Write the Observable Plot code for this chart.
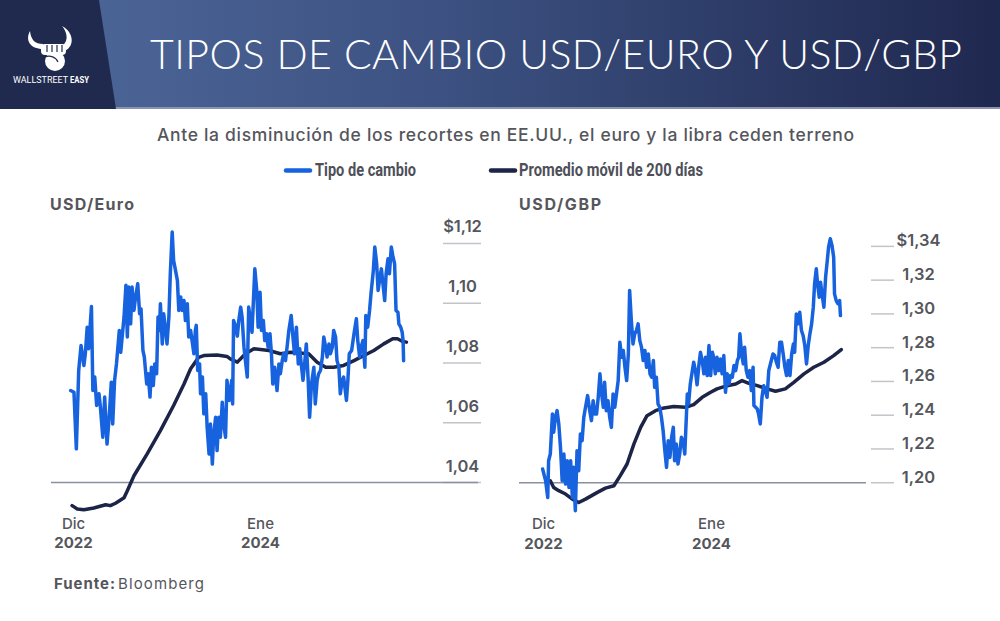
<!DOCTYPE html>
<html><head><meta charset="utf-8">
<script src="https://cdn.jsdelivr.net/npm/d3@7"></script>
<script src="https://cdn.jsdelivr.net/npm/@observablehq/plot@0.6"></script>
<style>
html,body{margin:0;padding:0;background:#fff;}
#wrap{position:relative;width:1000px;height:621px;overflow:hidden;font-family:Inter,"Open Sans",sans-serif;background:#fff;}
#wrap > svg{position:absolute;}
</style></head><body><div id="wrap">
<svg id="deco" width="1000" height="621" style="left:0;top:0">
  <defs>
    <linearGradient id="bg" x1="0" x2="1" y1="0" y2="0">
      <stop offset="0" stop-color="#4f699c"/>
      <stop offset="0.45" stop-color="#3c5181"/>
      <stop offset="1" stop-color="#1f284f"/>
    </linearGradient>
  </defs>
  <rect width="1000" height="108" fill="url(#bg)"/>
  <rect y="107" width="1000" height="2" fill="#8c94ad"/>
  <polygon points="0,0 99,0 116,109 0,109" fill="#1f2a4e"/>
  <g fill="#fff">
    <path d="M30,31 C25,40 30,49 43,49 L43,44 C35,44 31,40 30,31 Z"/>
    <path d="M62,26 C74,32 76,48 62,52 L60,47 C69,43 68,33 62,26 Z"/>
    <rect x="41" y="44" width="25" height="11" rx="4"/>
    <circle cx="55" cy="61" r="10"/>
  </g>
  <g stroke="#1f2a4e" stroke-width="1.2" fill="none">
    <line x1="47" y1="45" x2="47" y2="52"/><line x1="52" y1="45" x2="52" y2="52"/><line x1="57" y1="45" x2="57" y2="52"/><line x1="62" y1="45" x2="62" y2="52"/>
    <path d="M45,57 C50,55 56,57 58,62"/>
  </g>
  <text x="13" y="83" fill="#fff" font-family="Roboto, sans-serif" font-size="8.3" textLength="55" lengthAdjust="spacingAndGlyphs">WALLSTREET</text>
  <text x="70" y="83" fill="#fff" font-family="Roboto, sans-serif" font-weight="700" font-size="8.3" textLength="19" lengthAdjust="spacingAndGlyphs">EASY</text>
  <text x="150" y="69" fill="#fff" font-family="Lato, sans-serif" font-weight="300" font-size="41" textLength="812" lengthAdjust="spacing">TIPOS DE CAMBIO USD/EURO Y USD/GBP</text>
  <text x="157" y="141" fill="#55565c" font-family="Inter, sans-serif" font-weight="500" font-size="17.5" textLength="697" lengthAdjust="spacing">Ante la disminución de los recortes en EE.UU., el euro y la libra ceden terreno</text>
  <line x1="286" y1="170.5" x2="310" y2="170.5" stroke="#1762de" stroke-width="4.5" stroke-linecap="round"/>
  <text x="315" y="176" fill="#4e5059" font-family="Roboto, sans-serif" font-weight="700" font-size="17.5" textLength="101" lengthAdjust="spacingAndGlyphs">Tipo de cambio</text>
  <line x1="491" y1="170.5" x2="515" y2="170.5" stroke="#1c2547" stroke-width="4.5" stroke-linecap="round"/>
  <text x="519" y="176" fill="#4e5059" font-family="Roboto, sans-serif" font-weight="700" font-size="17.5" textLength="184" lengthAdjust="spacingAndGlyphs">Promedio móvil de 200 días</text>
  <text x="50" y="210" fill="#55565c" font-family="Inter, sans-serif" font-weight="700" font-size="16" textLength="84" lengthAdjust="spacing">USD/Euro</text>
  <text x="519" y="210" fill="#55565c" font-family="Inter, sans-serif" font-weight="700" font-size="16" textLength="82" lengthAdjust="spacing">USD/GBP</text>
  <text x="54" y="589" fill="#55565c" font-family="Inter, sans-serif" font-weight="700" font-size="15" textLength="61" lengthAdjust="spacing">Fuente:</text>
  <text x="118" y="589" fill="#55565c" font-family="Inter, sans-serif" font-weight="400" font-size="15" textLength="86" lengthAdjust="spacing">Bloomberg</text>
</svg>
</div>
<script>
// Data: [days since 2022-12-01, value]
const eurRate = [[-6,1.0708],[1,1.0702],[6,1.0513],[11,1.0775],[16,1.0859],[22,1.0792],[25,1.0831],[29,1.0920],[32,1.0848],[38,1.0989],[41,1.0708],[45,1.0753],[49,1.0658],[54,1.0697],[57,1.0652],[62,1.0552],[66,1.0686],[71,1.0529],[76,1.0630],[80,1.0736],[83,1.0596],[87,1.0742],[91,1.0797],[94,1.0853],[97,1.0909],[100,1.0836],[103,1.0887],[107,1.0954],[111,1.1060],[114,1.0887],[117,1.1054],[121,1.0931],[124,1.1054],[128,1.0976],[131,1.1015],[136,1.1065],[140,1.0965],[143,1.0981],[147,1.0842],[150,1.0820],[155,1.0730],[158,1.0764],[162,1.0686],[165,1.0786],[169,1.0725],[172,1.0797],[176,1.0764],[179,1.0954],[182,1.0909],[184,1.0998],[188,1.0864],[191,1.0965],[195,1.0909],[198,1.0864],[202,1.0954],[205,1.1099],[209,1.1238],[212,1.1143],[216,1.1110],[220,1.1076],[223,1.0976],[227,1.1021],[230,1.0976],[234,1.1009],[237,1.0942],[241,1.0998],[244,1.0887],[248,1.0909],[251,1.0875],[255,1.0831],[258,1.0909],[260,1.0926],[263,1.0775],[267,1.0797],[269,1.0697],[273,1.0753],[276,1.0630],[280,1.0697],[283,1.0585],[287,1.0496],[290,1.0596],[294,1.0462],[297,1.0563],[301,1.0619],[304,1.0507],[308,1.0619],[311,1.0552],[315,1.0669],[318,1.0596],[322,1.0552],[325,1.0742],[330,1.0675],[335,1.0742],[337,1.0663],[339,1.0942],[343,1.0925],[347,1.0890],[350,1.0942],[354,1.0987],[357,1.0954],[361,1.0853],[364,1.0808],[368,1.0753],[371,1.0987],[378,1.0903],[384,1.1115],[388,1.1043],[391,1.0920],[395,1.1037],[398,1.0909],[402,1.0942],[405,1.0875],[409,1.0898],[412,1.0853],[416,1.0898],[419,1.0836],[422,1.0730],[426,1.0786],[431,1.0708],[435,1.0797],[438,1.0764],[442,1.0808],[445,1.0831],[449,1.0808],[453,1.0864],[456,1.0909],[461,1.0959],[464,1.0898],[468,1.0831],[472,1.0920],[476,1.0797],[479,1.0848],[483,1.0786],[486,1.0742],[490,1.0808],[493,1.0864],[497,1.0742],[500,1.0619],[504,1.0730],[509,1.0786],[512,1.0663],[516,1.0742],[519,1.0764],[523,1.0775],[527,1.0820],[530,1.0887],[534,1.0853],[537,1.0820],[541,1.0864],[544,1.0831],[548,1.0853],[551,1.0909],[555,1.0887],[558,1.0808],[562,1.0786],[565,1.0697],[569,1.0742],[572,1.0753],[578,1.0675],[581,1.0742],[584,1.0831],[589,1.0842],[594,1.0898],[599,1.0948],[602,1.0875],[606,1.0820],[609,1.0853],[613,1.0875],[617,1.0786],[619,1.0959],[623,1.0920],[627,1.0976],[630,1.1032],[635,1.1110],[638,1.1188],[642,1.1132],[645,1.1043],[649,1.1087],[652,1.1115],[656,1.1054],[659,1.1009],[662,1.1099],[666,1.1149],[669,1.1099],[673,1.1188],[676,1.1160],[680,1.1132],[683,1.0976],[687,1.0970],[689,1.0931],[693,1.0920],[696,1.0903],[698,1.0875],[699,1.0808]];
const eurMA = [[-3,1.0323],[8,1.0312],[22,1.0309],[43,1.0315],[68,1.0326],[78,1.0323],[89,1.0331],[107,1.0349],[114,1.0373],[128,1.0423],[156,1.0496],[184,1.0574],[212,1.0658],[234,1.0730],[248,1.0781],[258,1.0803],[265,1.0819],[276,1.0825],[304,1.0827],[325,1.0822],[332,1.0814],[347,1.0803],[364,1.0831],[382,1.0848],[414,1.0842],[438,1.0831],[460,1.0836],[498,1.0831],[516,1.0803],[534,1.0786],[551,1.0786],[572,1.0792],[594,1.0808],[615,1.0825],[636,1.0842],[657,1.0864],[676,1.0881],[686,1.0881],[696,1.0873],[705,1.0870]];
const gbpRate = [[-2,1.2081],[5,1.2012],[10,1.1913],[12,1.2130],[16,1.2170],[21,1.2407],[24,1.2299],[28,1.2388],[32,1.2427],[36,1.2348],[40,1.2210],[44,1.2012],[48,1.2170],[52,1.1992],[56,1.2130],[60,1.1972],[64,1.2130],[68,1.1913],[71,1.2091],[75,1.1834],[79,1.2190],[83,1.2071],[87,1.2289],[91,1.2249],[95,1.2388],[99,1.2447],[104,1.2516],[109,1.2427],[113,1.2368],[117,1.2486],[121,1.2407],[125,1.2407],[129,1.2506],[133,1.2645],[137,1.2526],[141,1.2447],[144,1.2595],[148,1.2427],[152,1.2486],[156,1.2388],[160,1.2328],[164,1.2526],[168,1.2447],[172,1.2526],[176,1.2605],[180,1.2832],[184,1.2743],[188,1.2783],[192,1.2684],[196,1.2605],[200,1.2763],[203,1.3139],[207,1.2961],[211,1.2822],[215,1.2882],[219,1.2901],[223,1.2941],[227,1.2842],[231,1.2803],[235,1.2724],[239,1.2783],[243,1.2684],[247,1.2763],[251,1.2645],[255,1.2625],[259,1.2724],[262,1.2565],[266,1.2625],[270,1.2467],[274,1.2447],[278,1.2388],[282,1.2308],[286,1.2190],[290,1.2091],[294,1.2249],[298,1.2150],[302,1.2269],[306,1.2328],[309,1.2130],[313,1.2229],[317,1.2111],[321,1.2170],[325,1.2269],[329,1.2249],[333,1.2170],[337,1.2407],[339,1.2526],[342,1.2467],[346,1.2585],[350,1.2650],[354,1.2714],[358,1.2664],[362,1.2580],[366,1.2690],[370,1.2773],[374,1.2724],[378,1.2645],[382,1.2743],[386,1.2635],[390,1.2813],[394,1.2635],[398,1.2773],[401,1.2743],[405,1.2645],[409,1.2743],[413,1.2664],[417,1.2733],[421,1.2645],[425,1.2753],[429,1.2536],[433,1.2645],[437,1.2585],[441,1.2635],[445,1.2625],[449,1.2694],[453,1.2664],[457,1.2724],[460,1.2743],[463,1.2882],[467,1.2763],[471,1.2704],[474,1.2803],[478,1.2664],[482,1.2625],[486,1.2664],[490,1.2546],[494,1.2684],[496,1.2457],[500,1.2447],[504,1.2437],[507,1.2407],[511,1.2348],[515,1.2506],[519,1.2575],[523,1.2546],[527,1.2506],[531,1.2664],[537,1.2724],[541,1.2763],[545,1.2753],[549,1.2714],[553,1.2684],[557,1.2832],[561,1.2832],[565,1.2763],[569,1.2684],[573,1.2635],[577,1.2724],[581,1.2635],[585,1.2763],[589,1.2822],[592,1.2773],[596,1.3000],[600,1.2941],[604,1.3010],[608,1.2902],[612,1.2872],[616,1.2813],[620,1.2704],[624,1.2813],[628,1.2882],[632,1.2941],[636,1.3040],[639,1.3178],[643,1.3267],[646,1.3178],[650,1.3099],[653,1.3188],[657,1.3109],[661,1.3040],[665,1.3218],[669,1.3317],[672,1.3396],[676,1.3445],[680,1.3406],[684,1.3336],[686,1.3119],[690,1.3079],[694,1.3060],[698,1.3079],[700,1.2990]];
const gbpMA = [[16,1.2012],[24,1.1972],[36,1.1953],[52,1.1933],[68,1.1903],[83,1.1883],[99,1.1903],[127,1.1943],[146,1.1968],[166,1.1982],[181,1.2042],[197,1.2111],[213,1.2229],[229,1.2328],[244,1.2397],[264,1.2427],[284,1.2443],[307,1.2451],[335,1.2447],[354,1.2463],[374,1.2506],[394,1.2536],[409,1.2556],[433,1.2575],[453,1.2585],[468,1.2605],[484,1.2589],[504,1.2575],[527,1.2556],[547,1.2542],[570,1.2556],[590,1.2595],[614,1.2645],[637,1.2684],[661,1.2714],[684,1.2753],[702,1.2789]];
const eurTicks = [1.04, 1.06, 1.08, 1.10, 1.12];
const gbpTicks = [1.20, 1.22, 1.24, 1.26, 1.28, 1.30, 1.32, 1.34];
const xTickDays = [0, 396];
const xMonths = ["Dic", "Ene"];
const xYears = ["2022", "2024"];

const blue = "#1762de", navy = "#1c2547", grey = "#55565c";
const T0 = Date.UTC(2022, 11, 1);
const toDate = d => new Date(T0 + d * 864e5);
const rows = pts => pts.map(([d, v]) => ({date: toDate(d), value: v}));
const fmt = top => v => (v === top ? "$" : "") + v.toFixed(2).replace(".", ",");
const xTicks = xTickDays.map((d, i) => ({date: toDate(d), m: xMonths[i], y: xYears[i]}));

function panel(o) {
  const top = o.ticks[o.ticks.length - 1];
  return Plot.plot({
    width: 500, height: 380,
    marginLeft: o.ml, marginRight: o.mr, marginTop: o.mt, marginBottom: o.mb,
    x: {type: "utc", domain: o.xDays.map(toDate), axis: null},
    y: {domain: o.yDomain, axis: null},
    style: {overflow: "visible", background: "transparent", fontFamily: "Inter, sans-serif"},
    marks: [
      Plot.ruleY(o.ticks, {insetLeft: o.gridInset, stroke: "#c3c4ca", strokeWidth: 1.5}),
      Plot.ruleY([o.ticks[0]], {insetRight: o.baseInset, stroke: "#8a8fa1", strokeWidth: 1.5}),
      Plot.text(o.ticks, {y: d => d, frameAnchor: "right", dx: o.ldx, dy: o.ldy, text: fmt(top), textAnchor: "middle", lineAnchor: "bottom", fontSize: 16.5, fontWeight: 600, fill: grey}),
      Plot.line(rows(o.ma), {x: "date", y: "value", stroke: navy, strokeWidth: 3.5, strokeLinejoin: "round", strokeLinecap: "round"}),
      Plot.line(rows(o.rate), {x: "date", y: "value", stroke: blue, strokeWidth: 3.5, strokeLinejoin: "round", strokeLinecap: "round"}),
      Plot.text(xTicks, {x: "date", text: "m", frameAnchor: "bottom", dy: o.mdy, lineAnchor: "bottom", fontSize: 15, fontWeight: 500, fill: grey}),
      Plot.text(xTicks, {x: "date", text: "y", frameAnchor: "bottom", dy: o.ydy, lineAnchor: "bottom", fontSize: 15, fontWeight: 700, fill: grey})
    ]
  });
}

const eurSvg = panel({rate: eurRate, ma: eurMA, ticks: eurTicks, yDomain: [1.03, 1.125], xDays: [-46.6, 864],
  ml: 51, mr: 19, mt: 48, mb: 48, gridInset: 392, baseInset: 3, ldx: -19, ldy: -11, mdy: 16, ydy: 35});
const gbpSvg = panel({rate: gbpRate, ma: gbpMA, ticks: gbpTicks, yDomain: [1.18, 1.35], xDays: [-56.6, 827.4],
  ml: 19, mr: 106, mt: 49, mb: 44, gridInset: 352, baseInset: 28, ldx: 24, ldy: 0, mdy: 12, ydy: 32});
eurSvg.style.left = "0px"; eurSvg.style.top = "180px";
gbpSvg.style.left = "500px"; gbpSvg.style.top = "180px";
const wrap = document.getElementById("wrap");
wrap.appendChild(eurSvg);
wrap.appendChild(gbpSvg);
</script>
</body></html>
